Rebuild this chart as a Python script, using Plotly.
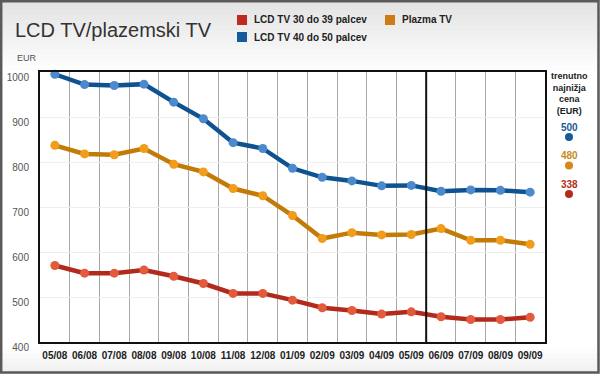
import plotly.graph_objects as go

months = ["05/08", "06/08", "07/08", "08/08", "09/08", "10/08", "11/08", "12/08", "01/09",
          "02/09", "03/09", "04/09", "05/09", "06/09", "07/09", "08/09", "09/09"]
lcd_30_39 = [570, 553, 553, 560, 546, 530, 508, 508, 493, 476, 470, 462, 467, 456, 450, 450, 455]
lcd_40_50 = [995, 972, 970, 973, 933, 896, 843, 830, 786, 766, 758, 747, 748, 735, 738, 737, 733]
plazma = [837, 818, 816, 830, 795, 778, 741, 725, 681, 630, 643, 638, 639, 652, 626, 626, 617]
series_names = ["LCD TV 30 do 39 palcev", "LCD TV 40 do 50 palcev", "Plazma TV"]
current_lowest = [500, 480, 338]  # blue, orange, red
y_ticks = [400, 500, 600, 700, 800, 900, 1000]

W, H = 600, 374
ML, MR, MT, MB = 40, 55, 72, 32
PW, PH = W - ML - MR, H - MT - MB


def px(x):
    return (x - ML) / PW


def py(y):
    return (H - MB - y) / PH


x_idx = list(range(len(months)))

styles = {
    "LCD TV 30 do 39 palcev": dict(line="#b22a1c", marker="#e35a3c", sq="#c0291d", data=lcd_30_39),
    "LCD TV 40 do 50 palcev": dict(line="#0f5290", marker="#4c89cd", sq="#175a9c", data=lcd_40_50),
    "Plazma TV": dict(line="#c27b06", marker="#f29c1c", sq="#cf7a12", data=plazma),
}

fig = go.Figure()
for name in ["LCD TV 30 do 39 palcev", "Plazma TV", "LCD TV 40 do 50 palcev"]:
    s = styles[name]
    fig.add_trace(go.Scatter(
        x=x_idx, y=s["data"], mode="lines+markers", name=name, showlegend=False,
        line=dict(color=s["line"], width=4.5),
        marker=dict(color=s["marker"], size=9, line=dict(width=0)),
        cliponaxis=False,
    ))

shapes = []
# background gradient (top/bottom) and frame
n = 14
for i in range(n):
    y0 = i * 5
    g = int(0xe4 + (0xff - 0xe4) * i / n)
    col = f"rgb({g},{g},{g})"
    shapes.append(dict(type="rect", xref="paper", yref="paper", layer="below",
                       x0=px(0), x1=px(W), y0=py(y0 + 5), y1=py(y0), fillcolor=col, line_width=0))
for i in range(6):
    y0 = H - 30 + i * 5
    g = int(0xff - (0xff - 0xee) * i / 6)
    col = f"rgb({g},{g},{g})"
    shapes.append(dict(type="rect", xref="paper", yref="paper", layer="below",
                       x0=px(0), x1=px(W), y0=py(y0 + 5), y1=py(y0), fillcolor=col, line_width=0))
shapes.append(dict(type="rect", xref="paper", yref="paper", layer="above",
                   x0=px(1.2), x1=px(W - 1.5), y0=py(H - 1.5), y1=py(1.2),
                   line=dict(color="#5a5a5a", width=2.5)))
# separator between 05/09 and 06/09
shapes.append(dict(type="line", xref="x", yref="paper", x0=12.5, x1=12.5, y0=0, y1=1,
                   line=dict(color="#111", width=2)))

FONT = "Liberation Sans, Arial, sans-serif"
annotations = []
annotations.append(dict(text="LCD TV/plazemski TV", xref="paper", yref="paper",
                        x=px(13), y=py(30), xanchor="left", yanchor="middle", showarrow=False,
                        font=dict(family=FONT, size=20, color="#333")))
annotations.append(dict(text="EUR", xref="paper", yref="paper", x=px(15), y=py(58),
                        xanchor="left", yanchor="middle", showarrow=False,
                        font=dict(family=FONT, size=9, color="#555")))

legend_pos = {
    "LCD TV 30 do 39 palcev": (242, 20),
    "LCD TV 40 do 50 palcev": (242, 37),
    "Plazma TV": (390, 20),
}
for name, (lx, ly) in legend_pos.items():
    shapes.append(dict(type="rect", xref="paper", yref="paper", xsizemode="pixel", ysizemode="pixel",
                       xanchor=px(lx), yanchor=py(ly), x0=-5, x1=5, y0=-5, y1=5,
                       fillcolor=styles[name]["sq"], line_width=0))
    annotations.append(dict(text=f"<b>{name}</b>", xref="paper", yref="paper", x=px(lx + 10), y=py(ly),
                            xanchor="left", yanchor="middle", showarrow=False,
                            font=dict(family=FONT, size=10, color="#222")))

annotations.append(dict(text="<b>trenutno<br>najnižja<br>cena<br>(EUR)</b>", xref="paper", yref="paper",
                        x=px(569), y=py(69), xanchor="center", yanchor="top", showarrow=False,
                        align="center",
                        font=dict(family=FONT, size=9, color="#222")))
cur_cols = ["#1a5a9a", "#c98a1a", "#b53020"]
cur_dot_cols = ["#175a9c", "#d58a18", "#b52a1c"]
for i, (val, c, dc) in enumerate(zip(current_lowest, cur_cols, cur_dot_cols)):
    ty = 127 + i * 28.5
    annotations.append(dict(text=f"<b>{val}</b>", xref="paper", yref="paper", x=px(569), y=py(ty),
                            xanchor="center", yanchor="middle", showarrow=False,
                            font=dict(family=FONT, size=10, color=c)))
    shapes.append(dict(type="circle", xref="paper", yref="paper", xsizemode="pixel", ysizemode="pixel",
                       xanchor=px(569), yanchor=py(ty + 10), x0=-4, x1=4, y0=-4, y1=4,
                       fillcolor=dc, line_width=0))

fig.update_layout(
    template="none",
    width=W, height=H,
    margin=dict(l=ML, r=MR, t=MT, b=MB, pad=0),
    paper_bgcolor="white", plot_bgcolor="white",
    showlegend=False,
    shapes=shapes, annotations=annotations,
    xaxis=dict(range=[-0.5, len(months) - 0.5], tickmode="array", tickvals=x_idx, ticktext=months,
               automargin=False,
               showgrid=False, zeroline=False, showline=True, mirror=True, linecolor="#111", linewidth=2,
               ticks="", tickfont=dict(family=FONT, size=10, color="#222", weight="bold"),
               ticklabelstandoff=3,
               minor=dict(tickmode="array", tickvals=[i + 0.5 for i in range(len(months) - 1)],
                          showgrid=True, gridcolor="#a8a8a8", gridwidth=1, ticks="")),
    yaxis=dict(range=[400, 1000], tickmode="array", tickvals=y_ticks, showgrid=True, gridcolor="#eeeeee",
               automargin=False,
               gridwidth=1, zeroline=False, showline=True, mirror=True, linecolor="#111", linewidth=2,
               ticks="", tickfont=dict(family=FONT, size=10, color="#555"),
               ticklabelstandoff=7, ticklabelshift=5),
)

fig.write_html("out.html",
               config={"displayModeBar": False},
               post_script="document.body.style.margin='0';document.body.style.padding='0';"
                           "document.body.style.overflow='hidden';")
